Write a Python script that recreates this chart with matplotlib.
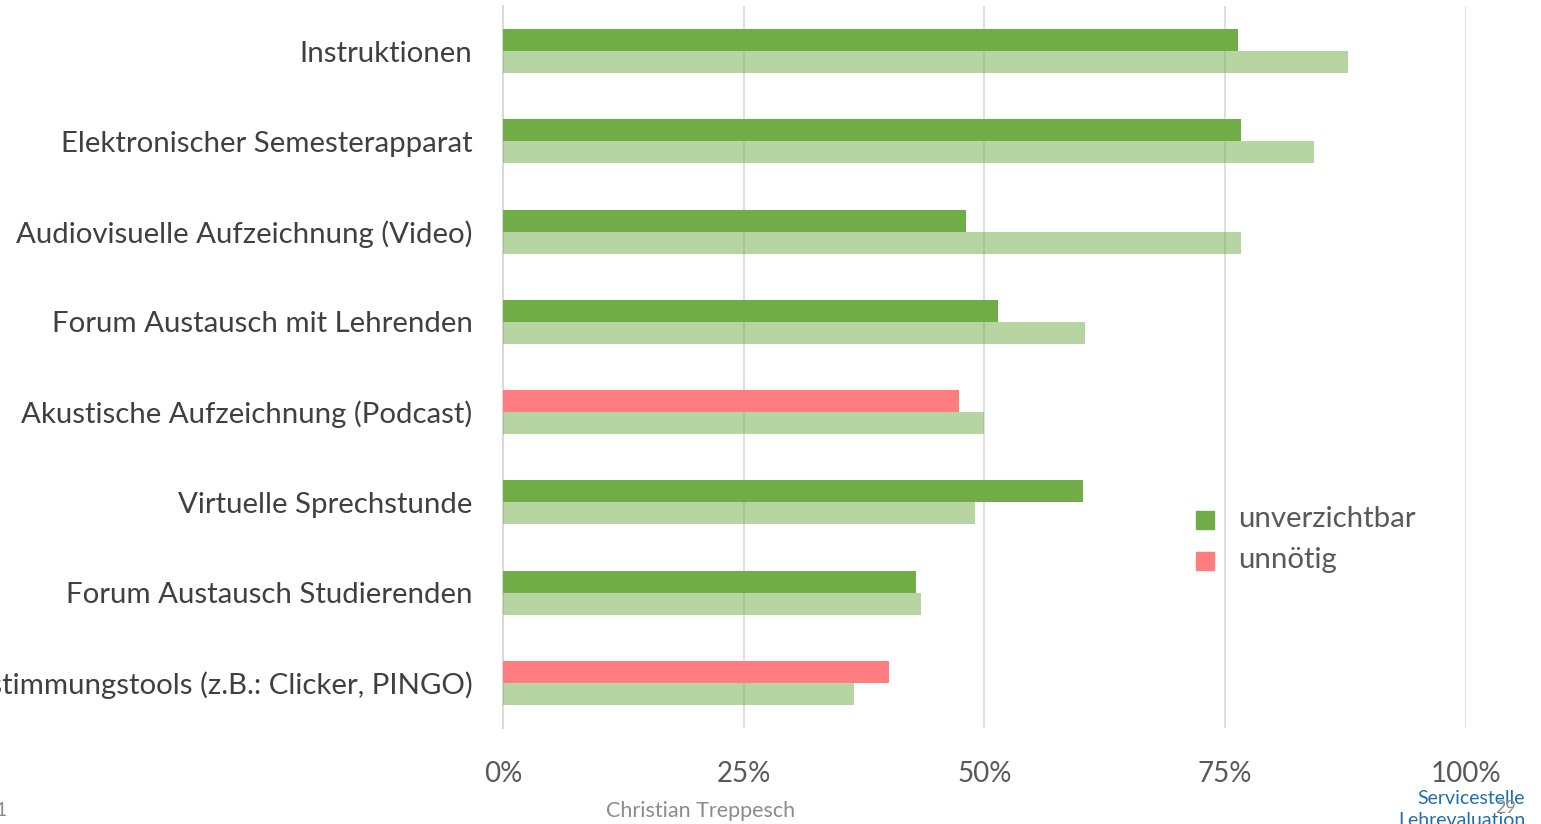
import matplotlib.pyplot as plt
import numpy as np

plt.rcParams['font.family'] = ['Lato', 'DejaVu Sans']

# data (percent)
categories = [
    'Instruktionen',
    'Elektronischer Semesterapparat',
    'Audiovisuelle Aufzeichnung (Video)',
    'Forum Austausch mit Lehrenden',
    'Akustische Aufzeichnung (Podcast)',
    'Virtuelle Sprechstunde',
    'Forum Austausch Studierenden',
    'Abstimmungstools (z.B.: Clicker, PINGO)',
]
top_values = [76.3, 76.6, 48.1, 51.4, 47.4, 60.2, 42.9, 40.1]
top_kind = ['unverzichtbar', 'unverzichtbar', 'unverzichtbar', 'unverzichtbar',
            'unnötig', 'unverzichtbar', 'unverzichtbar', 'unnötig']
light_values = [87.7, 84.2, 76.6, 60.4, 49.9, 49.0, 43.4, 36.4]
x_ticks = [0, 25, 50, 75, 100]
tick_labels = ['0%', '25%', '50%', '75%', '100%']

green = '#70AD47'
red = '#FF7C80'
gray = '#595959'
colors = {'unverzichtbar': green, 'unnötig': red}

fig = plt.figure(figsize=(15.41, 8.24), dpi=100)
ax = fig.add_axes([0.3264, 1 - 728 / 824, 0.6249, 722 / 824])

y = np.arange(len(categories))
h = 0.245
ax.barh(y - h / 2, top_values, height=h, color=[colors[k] for k in top_kind], zorder=3)
ax.barh(y + h / 2, light_values, height=h, color=green, alpha=0.5, zorder=3)

ax.set_ylim(len(categories) - 0.5, -0.5)
ax.set_xlim(0, 100)
ax.set_yticks(y)
ax.set_yticklabels(categories, fontsize=21.2, color='#404040')
ax.set_xticks(x_ticks)
ax.set_xticklabels(tick_labels, fontsize=20, color=gray)
ax.tick_params(axis='y', length=0, pad=22)
ax.tick_params(axis='x', length=0, pad=24)
ax.grid(axis='x', color='#d9d9d9', linewidth=1.2, zorder=0)
for s in ['top', 'right', 'bottom']:
    ax.spines[s].set_visible(False)
ax.spines['left'].set_color('#d9d9d9')
ax.spines['left'].set_linewidth(1.5)

# legend
legend_items = [('unverzichtbar', green), ('unnötig', red)]
for i, (lab, c) in enumerate(legend_items):
    yy = 1 - (520 + 41 * i) / 824
    fig.patches.append(plt.Rectangle((1196 / 1541, yy - 9 / 824), 18 / 1541, 18 / 824,
                                     transform=fig.transFigure, color=c))
    fig.text(1238 / 1541, yy + 1 / 824, lab, fontsize=21.2, color=gray, va='center', ha='left')

# footer
fig.text(701 / 1541, 1 - 811 / 824, 'Christian Treppesch', fontsize=15.5, color='#8c8c8c',
         ha='center', va='center')
fig.text(-0.003, 1 - 811 / 824, '1', fontsize=14, color='#8c8c8c', ha='left', va='center')
fig.text(1525 / 1541, 1 - 799 / 824, 'Servicestelle', fontsize=14, color='#1f6fb2',
         ha='right', va='center')
fig.text(1525 / 1541, 1 - 820 / 824, 'Lehrevaluation', fontsize=14, color='#1f6fb2',
         ha='right', va='center')
fig.text(1495 / 1541, 1 - 808 / 824, '29', fontsize=13, color='#8c8c8c', ha='left', va='center')

fig.savefig('out.png', dpi=100)
